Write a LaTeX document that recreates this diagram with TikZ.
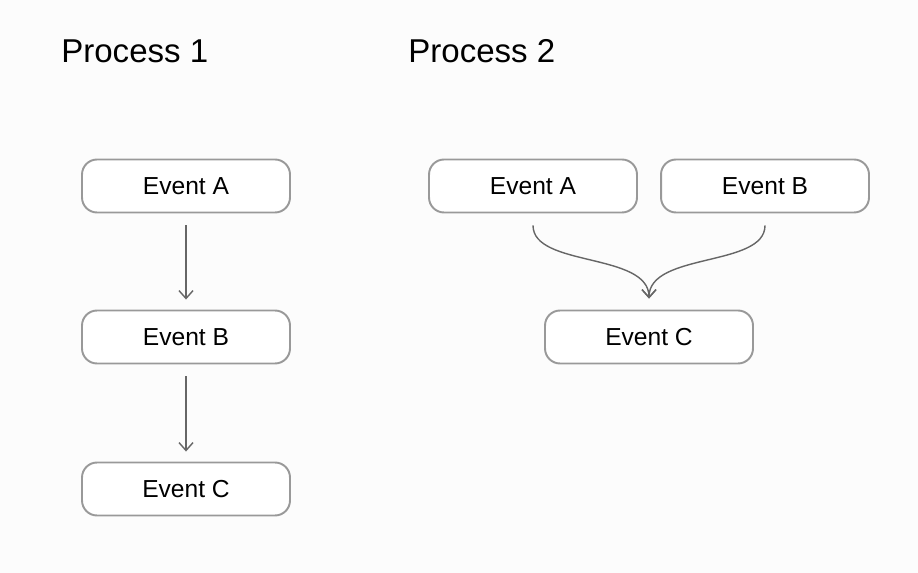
\documentclass[tikz,border=0pt]{standalone}
\usepackage{fontspec}
\setmainfont{Liberation Sans}
\usetikzlibrary{arrows.meta,positioning}

\tikzset{
  eventbox/.style={draw=black!40, line width=1.1pt, rounded corners=0.3cm, fill=white,
    minimum width=4.16cm, minimum height=1.06cm, inner sep=0pt, font=\fontsize{14}{16}\selectfont},
  title/.style={anchor=base west, inner sep=0pt, font=\fontsize{18.8}{22}\selectfont},
  link/.style={draw=black!60, line width=0.8pt, -{Straight Barb[length=4.5pt,width=8pt]}}
}

\begin{document}
\begin{tikzpicture}[x=0.02cm, y=-0.02cm]
\fill[white!99!black] (0,0) rectangle (918,573);
\useasboundingbox (0,0) rectangle (918,573);

% Process 1
\node[title] (t1) at (61,63) {Process 1};
\node[eventbox] (p1a) at (186,186) {Event A};
\node[eventbox] (p1b) at (186,337) {Event B};
\node[eventbox] (p1c) at (186,489) {Event C};
\draw[link] ([yshift=-0.24cm]p1a.south) -- ([yshift=0.2cm]p1b.north);
\draw[link] ([yshift=-0.24cm]p1b.south) -- ([yshift=0.2cm]p1c.north);

% Process 2
\node[title] (t2) at (408,63) {Process 2};
\node[eventbox] (p2a) at (533,186) {Event A};
\node[eventbox] (p2b) at (765,186) {Event B};
\node[eventbox] (p2c) at (649,337) {Event C};
\coordinate (join) at ([yshift=0.22cm]p2c.north);
\draw[link] ([yshift=-0.24cm]p2a.south) .. controls ++(0,42) and (649,252) .. (join);
\draw[link] ([yshift=-0.24cm]p2b.south) .. controls ++(0,42) and (649,252) .. (join);
\end{tikzpicture}
\end{document}
